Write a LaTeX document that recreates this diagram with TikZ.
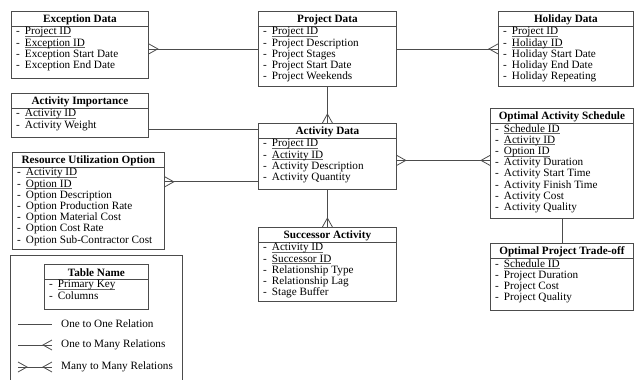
\documentclass[tikz,border=0pt]{standalone}
\usepackage{fontspec}
\setmainfont{Liberation Serif}

\newcommand{\pk}[1]{\setbox0=\hbox{#1}\rlap{\color{black!60}\rule[-1.6pt]{\wd0}{0.5pt}}\box0}
\newcommand{\bul}{-\hspace{5pt}}

\tikzset{
    tbl/.style={draw=black!70, line width=0.8pt, inner sep=0pt},
    ttl/.style={inner sep=0pt, font=\fontsize{11.2}{11.2}\selectfont\bfseries},
    rows/.style={inner xsep=5pt, inner ysep=1.2pt, align=left, font=\fontsize{11.2}{11.2}\selectfont},
    link/.style={draw=black!70, line width=0.8pt},
    pics/crow/.style={code={\draw[link] (0,-5) -- (9,0) -- (0,5);}}
}

% name, x, y, width, height, title, rows
\newcommand{\erbox}[7]{%
    \node[tbl, minimum width=#4pt, minimum height=#5pt, anchor=north west] (#1) at (#2,#3) {};
    \draw[link] (#1.north west) ++(0,15) -- ++(#4,0);
    \node[ttl] (#1-t) at ([yshift=-8.5pt]#1.north) {#6};
    \node[rows, anchor=north west] (#1-r) at ([yshift=-15pt]#1.north west) {#7};
}

\begin{document}
\begin{tikzpicture}[x=1pt, y=-1pt]
    \useasboundingbox (0,0) rectangle (635,380);

    \erbox{exc}{11}{11}{137}{67}{Exception Data}
        {\bul\pk{Project ID}\\\bul\pk{Exception ID}\\\bul Exception Start Date\\\bul Exception End Date}
    \erbox{imp}{11}{93}{137}{44}{Activity Importance}
        {\bul\pk{Activity ID}\\\bul Activity Weight}
    \erbox{rou}{12}{152}{152}{97}{Resource Utilization Option}
        {\bul\pk{Activity ID}\\\bul\pk{Option ID}\\\bul Option Description\\\bul Option Production Rate\\\bul Option Material Cost\\\bul Option Cost Rate\\\bul Option Sub-Contractor Cost}
    \erbox{prj}{258}{11}{138}{75}{Project Data}
        {\bul\pk{Project ID}\\\bul Project Description\\\bul Project Stages\\\bul Project Start Date\\\bul Project Weekends}
    \erbox{act}{258}{123}{138}{66}{Activity Data}
        {\bul\pk{Project ID}\\\bul\pk{Activity ID}\\\bul Activity Description\\\bul Activity Quantity}
    \erbox{suc}{258}{227}{138}{74}{Successor Activity}
        {\bul\pk{Activity ID}\\\bul\pk{Successor ID}\\\bul Relationship Type\\\bul Relationship Lag\\\bul Stage Buffer}
    \erbox{hol}{498}{11}{135}{75}{Holiday Data}
        {\bul\pk{Project ID}\\\bul\pk{Holiday ID}\\\bul Holiday Start Date\\\bul Holiday End Date\\\bul Holiday Repeating}
    \erbox{oas}{490}{108}{143}{110}{Optimal Activity Schedule}
        {\bul\pk{Schedule ID}\\\bul\pk{Activity ID}\\\bul\pk{Option ID}\\\bul Activity Duration\\\bul Activity Start Time\\\bul Activity Finish Time\\\bul Activity Cost\\\bul Activity Quality}
    \erbox{opt}{490}{243}{143}{67}{Optimal Project Trade-off}
        {\bul\pk{Schedule ID}\\\bul Project Duration\\\bul Project Cost\\\bul Project Quality}

    % relations
    \draw[link] (prj.west) -- (prj.west -| exc.east);
    \pic at (prj.west -| exc.east) {crow};
    \draw[link] (prj.east) -- (hol.west);
    \pic[rotate=180] at (hol.west) {crow};
    \draw[link] (prj.south) -- (act.north);
    \pic[rotate=90] at (act.north) {crow};

    \coordinate (impact) at ([yshift=-6pt]act.north west);
    \draw[link] (impact) -- (impact -| imp.east);
    \coordinate (rouact) at ([yshift=8pt]act.south west);
    \draw[link] (rouact) -- (rouact -| rou.east);
    \pic at (rouact -| rou.east) {crow};

    \coordinate (actoas) at ([yshift=-4pt]act.east);
    \draw[link] (actoas) -- (actoas -| oas.west);
    \pic at (actoas) {crow};
    \pic[rotate=180] at (actoas -| oas.west) {crow};

    \draw[link] (act.south) -- (suc.north);
    \pic[rotate=90] at (suc.north) {crow};
    \draw[link] (oas.south) -- (opt.north);

    % legend
    \node[tbl, minimum width=172pt, minimum height=130pt, anchor=north west] (key) at (10,255) {};
    \erbox{tab}{44}{264}{104}{45}{Table Name}
        {\bul\pk{Primary Key}\\\bul Columns}
    \node[rows, anchor=west] (one) at (56,324) {One to One Relation};
    \node[rows, anchor=west] (many) at (56,345) {One to Many Relations};
    \node[rows, anchor=west] (both) at (56,367) {Many to Many Relations};
    \draw[link] ([xshift=-38pt]one.west) -- ([xshift=-4pt]one.west);
    \draw[link] ([xshift=-38pt]many.west) -- ([xshift=-4pt]many.west);
    \pic[rotate=180] at ([xshift=-4pt]many.west) {crow};
    \draw[link] ([xshift=-38pt]both.west) -- ([xshift=-4pt]both.west);
    \pic[rotate=180] at ([xshift=-4pt]both.west) {crow};
    \pic at ([xshift=-38pt]both.west) {crow};
\end{tikzpicture}
\end{document}
